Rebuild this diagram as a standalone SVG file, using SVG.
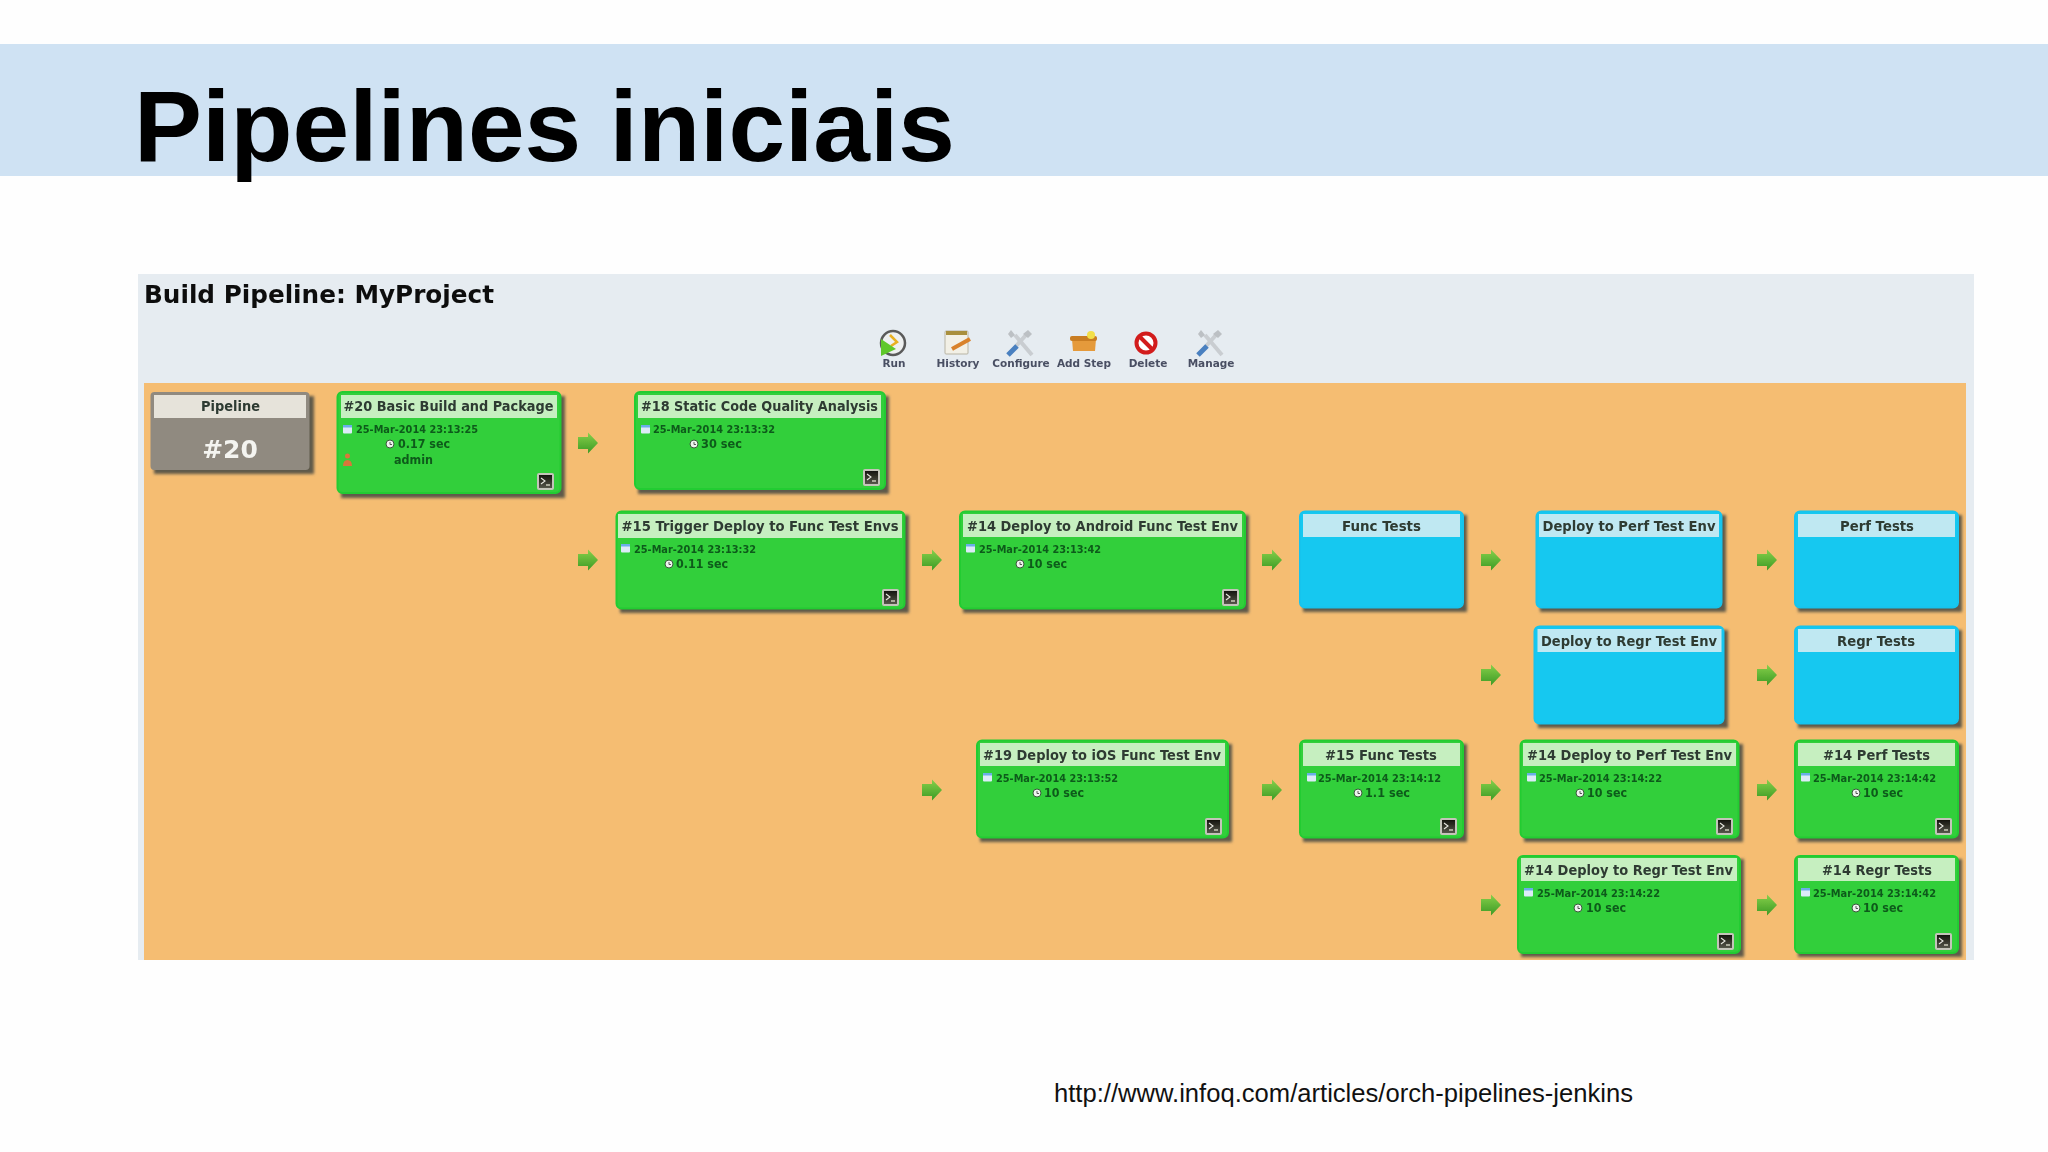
<svg xmlns="http://www.w3.org/2000/svg" width="2048" height="1152" viewBox="0 0 2048 1152">
<style>
.ok{fill:#31cf3a;stroke:#22cc33;stroke-width:2}
.pend{fill:#18c8f0;stroke:#14c4ee;stroke-width:2}
.hok{fill:#c6efc0}
.hpend{fill:#bfe8f2}
.sh{fill:#5e5a4c;filter:url(#sb)}
.h{font:bold 13.5px "DejaVu Sans",sans-serif;fill:#2e3b33;text-anchor:middle}
.d{font:bold 11px "DejaVu Sans",sans-serif;fill:#0f5a1a}
.t{font:bold 11.5px "DejaVu Sans",sans-serif;fill:#0f5a1a}
.l{font:bold 10.5px "DejaVu Sans",sans-serif;fill:#4a4f63;text-anchor:middle}
</style>
<defs>
<filter id="sb" x="-10%" y="-10%" width="120%" height="120%"><feGaussianBlur stdDeviation="1.6"/></filter>
<filter id="soft" filterUnits="userSpaceOnUse" x="130" y="270" width="1850" height="695"><feGaussianBlur stdDeviation="0.45"/></filter>
<linearGradient id="ag" x1="0" y1="0" x2="0" y2="1"><stop offset="0" stop-color="#86d04a"/><stop offset="1" stop-color="#3c9a24"/></linearGradient>
<linearGradient id="cg" x1="0" y1="0" x2="0" y2="1"><stop offset="0" stop-color="#15140f"/><stop offset="1" stop-color="#55564a"/></linearGradient>
<g id="arrow"><path d="M-10-6H0V-10.500L10 0 0 10.500V6H-10Z" fill="url(#ag)"/></g>
<g id="cal"><rect width="9" height="8.500" rx="1" fill="#dcebf8"/><rect width="9" height="2.500" fill="#6aaee8"/></g>
<g id="clk"><circle cx="4" cy="4" r="4" fill="#eef3ee" stroke="#3a5a3a" stroke-width="1"/><path d="M4 2V4.500H6" fill="none" stroke="#333" stroke-width=".8"/></g>
<g id="con"><rect width="17" height="17" rx="2" fill="#c4c4ba"/><rect x="2" y="2" width="13" height="13" fill="url(#cg)"/><path d="M4 5L8 8 4 11" fill="none" stroke="#e8e8e0" stroke-width="1.100"/><rect x="9" y="11" width="4" height="2" fill="#a9a99a"/></g>
<g id="tool"><path d="M-12 12L6-8" stroke="#c9cdd1" stroke-width="4"/><path d="M12 12L-5-8" stroke="#c9cdd1" stroke-width="4"/><path d="M-12 12L-3 3" stroke="#4a80c0" stroke-width="5"/><path d="M3-9L8-13 12-9 8-5Z" fill="#bcc0c4"/><path d="M-9-13L-5-8-9-5-12-9Z" fill="#bcc0c4"/></g>
</defs>
<rect width="2048" height="1152" fill="#fefefe"/>
<rect x="0" y="44" width="2048" height="132" fill="#cfe2f3"/>
<text x="134" y="161" font-family="Liberation Sans,Arial,sans-serif" font-weight="bold" font-size="100" textLength="821" lengthAdjust="spacingAndGlyphs" fill="#000">Pipelines iniciais</text>
<g filter="url(#soft)">
<rect x="138" y="274" width="1836" height="686" fill="#e6ecf1"/>
<rect x="144" y="383" width="1822" height="577" fill="#f5bd72"/>
<text x="144" y="303" font-family="DejaVu Sans,sans-serif" font-weight="bold" font-size="24" textLength="350" lengthAdjust="spacingAndGlyphs" fill="#111">Build Pipeline: MyProject</text>

<g id="toolbar">
<g id="tb-run"><circle cx="893" cy="343" r="12" fill="#eef0f0" stroke="#5a5a5a" stroke-width="2.500"/><path d="M890 335L897 342 891 346" fill="none" stroke="#e8b020" stroke-width="2.500"/><path d="M881 339L896 349 881 356Z" fill="#5fc82a"/><text class="l" x="894" y="367">Run</text></g>
<g id="tb-history"><rect x="945" y="331" width="23" height="23" rx="1" fill="#f2f0e6" stroke="#b8b4a4"/><rect x="946" y="331" width="21" height="4" fill="#a98f3e"/><path d="M952 349L970 339" stroke="#d9822b" stroke-width="4"/><text class="l" x="958" y="367">History</text></g>
<g id="tb-configure"><use href="#tool" x="1020" y="343"/><text class="l" x="1021" y="367">Configure</text></g>
<g id="tb-addstep"><path d="M1072 339L1096 339 1095 351H1073Z" fill="#e59a3a"/><rect x="1070" y="336" width="27" height="5" rx="2" fill="#c97d22"/><circle cx="1091" cy="335" r="4" fill="#f3df4a"/><text class="l" x="1084" y="367">Add Step</text></g>
<g id="tb-delete"><circle cx="1146" cy="343" r="9.500" fill="#fff" stroke="#d21f1f" stroke-width="4"/><path d="M1139 336L1153 350" stroke="#d21f1f" stroke-width="4"/><text class="l" x="1148" y="367">Delete</text></g>
<g id="tb-manage"><use href="#tool" x="1210" y="343"/><text class="l" x="1211" y="367">Manage</text></g>
</g>

<g id="connectors">
<use href="#arrow" x="588" y="443"/><use href="#arrow" x="588" y="560"/>
<use href="#arrow" x="932" y="560"/><use href="#arrow" x="932" y="790"/>
<use href="#arrow" x="1272" y="560"/><use href="#arrow" x="1272" y="790"/>
<use href="#arrow" x="1491" y="560"/><use href="#arrow" x="1491" y="675"/><use href="#arrow" x="1491" y="790"/><use href="#arrow" x="1491" y="905"/>
<use href="#arrow" x="1767" y="560"/><use href="#arrow" x="1767" y="675"/><use href="#arrow" x="1767" y="790"/><use href="#arrow" x="1767" y="905"/>
</g>

<g id="node-pipeline"><rect class="sh" x="154" y="396" width="160" height="78"/><rect x="150.500" y="392" width="159" height="78" rx="4" fill="#908a80"/><rect x="154" y="395" width="152" height="23" fill="#e6e3da"/><text class="h" x="230.500" y="411" textLength="59" lengthAdjust="spacingAndGlyphs">Pipeline</text><text x="230" y="458" font-family="DejaVu Sans,sans-serif" font-weight="bold" font-size="25" text-anchor="middle" fill="#f4f4f0">#20</text></g>

<g id="node-20"><rect class="sh" x="341" y="396" width="224" height="102"/><rect class="ok" x="337.500" y="392" width="223" height="101" rx="5"/><rect class="hok" x="341" y="395" width="216" height="23"/><text class="h" x="448.500" y="411" textLength="210" lengthAdjust="spacingAndGlyphs">#20 Basic Build and Package</text><use href="#cal" x="343" y="425"/><text class="d" x="356" y="433" textLength="122" lengthAdjust="spacingAndGlyphs">25-Mar-2014 23:13:25</text><use href="#clk" x="386" y="440"/><text class="t" x="398" y="448" textLength="52" lengthAdjust="spacingAndGlyphs">0.17 sec</text><path d="M345 456a2.500 2.500 0 0 1 5 0a2.500 2.500 0 0 1-5 0M343 466q0-6 4.500-6t4.500 6Z" fill="#d8763a"/><text class="t" x="394" y="464" textLength="39" lengthAdjust="spacingAndGlyphs">admin</text><use href="#con" x="537" y="473"/></g>

<g id="node-18"><rect class="sh" x="638" y="396" width="251" height="98"/><rect class="ok" x="635" y="392" width="250" height="97" rx="5"/><rect class="hok" x="638" y="395" width="243" height="23"/><text class="h" x="759.500" y="411" textLength="237" lengthAdjust="spacingAndGlyphs">#18 Static Code Quality Analysis</text><use href="#cal" x="641" y="425"/><text class="d" x="653" y="433" textLength="122" lengthAdjust="spacingAndGlyphs">25-Mar-2014 23:13:32</text><use href="#clk" x="690" y="440"/><text class="t" x="701" y="448" textLength="41" lengthAdjust="spacingAndGlyphs">30 sec</text><use href="#con" x="863" y="469"/></g>

<g id="node-15-trigger"><rect class="sh" x="620" y="515" width="289" height="98"/><rect class="ok" x="616.500" y="511.500" width="288" height="97" rx="5"/><rect class="hok" x="618" y="514" width="284" height="24"/><text class="h" x="760" y="531" textLength="277" lengthAdjust="spacingAndGlyphs">#15 Trigger Deploy to Func Test Envs</text><use href="#cal" x="621" y="544"/><text class="d" x="634" y="553" textLength="122" lengthAdjust="spacingAndGlyphs">25-Mar-2014 23:13:32</text><use href="#clk" x="665" y="560"/><text class="t" x="676" y="568" textLength="52" lengthAdjust="spacingAndGlyphs">0.11 sec</text><use href="#con" x="882" y="589"/></g>

<g id="node-14-android"><rect class="sh" x="963" y="515" width="286" height="98"/><rect class="ok" x="960" y="511.500" width="285" height="97" rx="5"/><rect class="hok" x="963" y="514" width="279" height="23"/><text class="h" x="1102.500" y="531" textLength="271" lengthAdjust="spacingAndGlyphs">#14 Deploy to Android Func Test Env</text><use href="#cal" x="966" y="544"/><text class="d" x="979" y="553" textLength="122" lengthAdjust="spacingAndGlyphs">25-Mar-2014 23:13:42</text><use href="#clk" x="1016" y="560"/><text class="t" x="1027" y="568" textLength="40" lengthAdjust="spacingAndGlyphs">10 sec</text><use href="#con" x="1222" y="589"/></g>

<g id="node-func-tests"><rect class="sh" x="1303" y="515" width="164" height="97"/><rect class="pend" x="1300" y="511.500" width="163" height="96" rx="5"/><rect class="hpend" x="1303" y="514" width="157" height="23"/><text class="h" x="1381.500" y="531" textLength="79" lengthAdjust="spacingAndGlyphs">Func Tests</text></g>

<g id="node-deploy-perf"><rect class="sh" x="1540" y="515" width="186" height="97"/><rect class="pend" x="1536.500" y="511.500" width="185" height="96" rx="5"/><rect class="hpend" x="1539" y="514" width="180" height="23"/><text class="h" x="1629" y="531" textLength="173" lengthAdjust="spacingAndGlyphs">Deploy to Perf Test Env</text></g>

<g id="node-perf-tests"><rect class="sh" x="1798" y="515" width="164" height="97"/><rect class="pend" x="1795" y="511.500" width="163" height="96" rx="5"/><rect class="hpend" x="1798" y="514" width="157" height="23"/><text class="h" x="1877" y="531" textLength="74" lengthAdjust="spacingAndGlyphs">Perf Tests</text></g>

<g id="node-deploy-regr"><rect class="sh" x="1538" y="630" width="190" height="98"/><rect class="pend" x="1534.500" y="626.500" width="189" height="97" rx="5"/><rect class="hpend" x="1537.500" y="629" width="184" height="23"/><text class="h" x="1629" y="646" textLength="176" lengthAdjust="spacingAndGlyphs">Deploy to Regr Test Env</text></g>

<g id="node-regr-tests"><rect class="sh" x="1798" y="630" width="164" height="98"/><rect class="pend" x="1795" y="626.500" width="163" height="97" rx="5"/><rect class="hpend" x="1798" y="629" width="157" height="23"/><text class="h" x="1876" y="646" textLength="78" lengthAdjust="spacingAndGlyphs">Regr Tests</text></g>

<g id="node-19"><rect class="sh" x="980" y="744" width="252" height="98"/><rect class="ok" x="977" y="740.500" width="251" height="97" rx="5"/><rect class="hok" x="980" y="743" width="245" height="23"/><text class="h" x="1102" y="760" textLength="238" lengthAdjust="spacingAndGlyphs">#19 Deploy to iOS Func Test Env</text><use href="#cal" x="983" y="773"/><text class="d" x="996" y="782" textLength="122" lengthAdjust="spacingAndGlyphs">25-Mar-2014 23:13:52</text><use href="#clk" x="1033" y="789"/><text class="t" x="1044" y="797" textLength="40" lengthAdjust="spacingAndGlyphs">10 sec</text><use href="#con" x="1205" y="818"/></g>

<g id="node-15-func"><rect class="sh" x="1303" y="744" width="164" height="98"/><rect class="ok" x="1300" y="740.500" width="163" height="97" rx="5"/><rect class="hok" x="1303" y="743" width="157" height="23"/><text class="h" x="1381" y="760" textLength="112" lengthAdjust="spacingAndGlyphs">#15 Func Tests</text><use href="#cal" x="1307" y="773"/><text class="d" x="1318" y="782" textLength="123" lengthAdjust="spacingAndGlyphs">25-Mar-2014 23:14:12</text><use href="#clk" x="1354" y="789"/><text class="t" x="1365" y="797" textLength="45" lengthAdjust="spacingAndGlyphs">1.1 sec</text><use href="#con" x="1440" y="818"/></g>

<g id="node-14-perf-deploy"><rect class="sh" x="1524" y="744" width="219" height="98"/><rect class="ok" x="1520.500" y="740.500" width="218" height="97" rx="5"/><rect class="hok" x="1523" y="743" width="213" height="23"/><text class="h" x="1629.500" y="760" textLength="205" lengthAdjust="spacingAndGlyphs">#14 Deploy to Perf Test Env</text><use href="#cal" x="1527" y="773"/><text class="d" x="1539" y="782" textLength="123" lengthAdjust="spacingAndGlyphs">25-Mar-2014 23:14:22</text><use href="#clk" x="1576" y="789"/><text class="t" x="1587" y="797" textLength="40" lengthAdjust="spacingAndGlyphs">10 sec</text><use href="#con" x="1716" y="818"/></g>

<g id="node-14-perf"><rect class="sh" x="1798" y="744" width="164" height="98"/><rect class="ok" x="1795" y="740.500" width="163" height="97" rx="5"/><rect class="hok" x="1798" y="743" width="157" height="23"/><text class="h" x="1876.500" y="760" textLength="107" lengthAdjust="spacingAndGlyphs">#14 Perf Tests</text><use href="#cal" x="1801" y="773"/><text class="d" x="1813" y="782" textLength="123" lengthAdjust="spacingAndGlyphs">25-Mar-2014 23:14:42</text><use href="#clk" x="1852" y="789"/><text class="t" x="1863" y="797" textLength="40" lengthAdjust="spacingAndGlyphs">10 sec</text><use href="#con" x="1935" y="818"/></g>

<g id="node-14-regr-deploy"><rect class="sh" x="1521" y="859" width="223" height="98"/><rect class="ok" x="1518" y="856" width="222" height="97" rx="5"/><rect class="hok" x="1521" y="858" width="216" height="23"/><text class="h" x="1628.500" y="875" textLength="209" lengthAdjust="spacingAndGlyphs">#14 Deploy to Regr Test Env</text><use href="#cal" x="1524" y="888"/><text class="d" x="1537" y="897" textLength="123" lengthAdjust="spacingAndGlyphs">25-Mar-2014 23:14:22</text><use href="#clk" x="1574" y="904"/><text class="t" x="1586" y="912" textLength="40" lengthAdjust="spacingAndGlyphs">10 sec</text><use href="#con" x="1717" y="933"/></g>

<g id="node-14-regr"><rect class="sh" x="1798" y="859" width="164" height="98"/><rect class="ok" x="1795" y="856" width="163" height="97" rx="5"/><rect class="hok" x="1798" y="858" width="157" height="23"/><text class="h" x="1877" y="875" textLength="110" lengthAdjust="spacingAndGlyphs">#14 Regr Tests</text><use href="#cal" x="1801" y="888"/><text class="d" x="1813" y="897" textLength="123" lengthAdjust="spacingAndGlyphs">25-Mar-2014 23:14:42</text><use href="#clk" x="1852" y="904"/><text class="t" x="1863" y="912" textLength="40" lengthAdjust="spacingAndGlyphs">10 sec</text><use href="#con" x="1935" y="933"/></g>
</g>
<text x="1054" y="1102" font-family="Liberation Sans,Arial,sans-serif" font-size="26" textLength="579" lengthAdjust="spacingAndGlyphs" fill="#111">http://www.infoq.com/articles/orch-pipelines-jenkins</text>
</svg>
